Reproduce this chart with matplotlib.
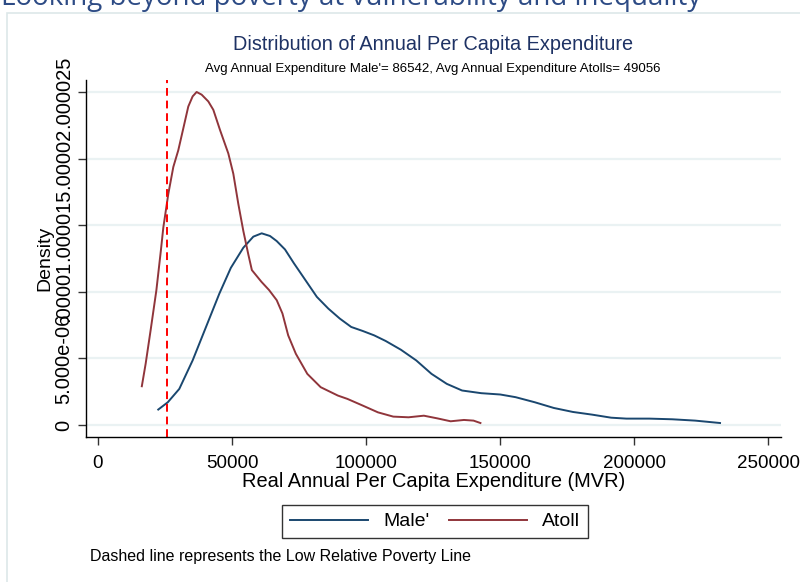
import matplotlib
matplotlib.use("Agg")
import matplotlib.pyplot as plt
from matplotlib.patches import Rectangle
from matplotlib.lines import Line2D

plt.rcParams['font.family'] = ['Liberation Sans', 'DejaVu Sans']

# ---- data ----
male_x = [22480, 26050, 30330, 35310, 40300, 45290, 49570, 54220, 57950, 61070,
          64170, 66670, 69770, 73100, 77380, 81650, 85930, 90210, 94480, 98760,
          103040, 107320, 113020, 118730, 124430, 130130, 135840, 142970, 150100,
          155800, 162930, 170060, 177190, 184320, 191450, 197150, 205700, 214260,
          222810, 232080]
male_y = [1.16e-6, 1.71e-6, 2.71e-6, 4.85e-6, 7.36e-6, 9.87e-6, 1.18e-5, 1.331e-5,
          1.414e-5, 1.439e-5, 1.419e-5, 1.381e-5, 1.318e-5, 1.214e-5, 1.088e-5,
          9.62e-6, 8.74e-6, 7.99e-6, 7.36e-6, 7.06e-6, 6.73e-6, 6.31e-6, 5.65e-6,
          4.85e-6, 3.84e-6, 3.09e-6, 2.59e-6, 2.39e-6, 2.29e-6, 2.09e-6, 1.71e-6,
          1.28e-6, 9.8e-7, 7.8e-7, 5.5e-7, 4.8e-7, 4.8e-7, 4.3e-7, 3.3e-7, 1.5e-7]

atoll_x = [16350, 17780, 19630, 21770, 23480, 24370, 26230, 28100, 29960, 31830,
           33690, 35310, 36800, 38670, 41160, 43030, 45520, 48630, 50490, 52360,
           54220, 56090, 57410, 60980, 63830, 66680, 68820, 70960, 73810, 78090,
           83080, 89500, 93060, 98760, 104460, 110170, 115870, 121580, 126570,
           131560, 136550, 140110, 142680]
atoll_y = [2.91e-6, 4.6e-6, 7.11e-6, 1.01e-5, 1.314e-5, 1.482e-5, 1.735e-5, 1.937e-5,
           2.063e-5, 2.227e-5, 2.391e-5, 2.467e-5, 2.50e-5, 2.48e-5, 2.429e-5,
           2.366e-5, 2.215e-5, 2.038e-5, 1.886e-5, 1.659e-5, 1.457e-5, 1.28e-5,
           1.163e-5, 1.075e-5, 1.013e-5, 9.37e-6, 8.37e-6, 6.73e-6, 5.35e-6, 3.84e-6,
           2.84e-6, 2.21e-6, 1.96e-6, 1.46e-6, 9.5e-7, 6.3e-7, 5.8e-7, 7.0e-7, 5.0e-7,
           2.8e-7, 3.8e-7, 3.3e-7, 1.5e-7]

poverty_line = 25900

x_ticks = [0, 50000, 100000, 150000, 200000, 250000]
x_tick_labels = ["0", "50000", "100000", "150000", "200000", "250000"]
y_ticks = [0, 5e-6, 1e-5, 1.5e-5, 2e-5, 2.5e-5]
y_tick_labels = ["0", "5.000e-06", ".00001", ".000015", ".00002", ".000025"]

series_names = ["Male'", "Atoll"]
male_color = "#1a476f"
atoll_color = "#90353b"

W, H = 800, 582
fig = plt.figure(figsize=(W / 100, H / 100), dpi=100)
fig.patch.set_facecolor("white")

def fx(px):
    return px / W

def fy(py):
    return 1 - py / H

# outer box border (partially cut off)
fig.patches.append(Rectangle((fx(7), fy(600)), 1.2, fy(13.5) - fy(600),
                             transform=fig.transFigure, fill=False,
                             edgecolor="#dde7e9", linewidth=1.2))

# cut-off page header
fig.text(fx(1), fy(5), "Looking beyond poverty at vulnerability and inequality",
         fontsize=20, family=["Open Sans", "DejaVu Sans"], color="#2d4b85",
         ha="left", va="baseline")

ax = fig.add_axes([fx(86), fy(437), fx(781) - fx(86), fy(80) - fy(437)])
ax.set_facecolor("white")

ax.plot(male_x, male_y, color=male_color, lw=1.4, label=series_names[0], solid_joinstyle="round")
ax.plot(atoll_x, atoll_y, color=atoll_color, lw=1.4, label=series_names[1], solid_joinstyle="round")
ax.axvline(poverty_line, color="#ff0000", lw=1.4, linestyle=(0, (4, 2.5)))

ax.set_xlim(-4477, 254830)
ax.set_ylim(-9.0e-7, 2.59e-5)

ax.set_xticks(x_ticks)
ax.set_xticklabels(x_tick_labels)
ax.set_yticks(y_ticks)
ax.set_yticklabels(y_tick_labels, rotation=90, va="center")

ax.yaxis.grid(True, color="#eaf2f3", lw=1.6)
ax.set_axisbelow(True)

for s in ["top", "right"]:
    ax.spines[s].set_visible(False)
for s in ["left", "bottom"]:
    ax.spines[s].set_color("black")
    ax.spines[s].set_linewidth(1.0)

ax.tick_params(axis="both", direction="out", length=6, width=1.0, color="#333333",
               labelcolor="black")
ax.tick_params(axis="x", pad=7, labelsize=13.5)
ax.tick_params(axis="y", pad=3, labelsize=14.5)

ax.set_xlabel("Real Annual Per Capita Expenditure (MVR)", fontsize=14.4, labelpad=0)
ax.set_ylabel("Density", fontsize=14, labelpad=1)

fig.text(fx(433), fy(45), "Distribution of Annual Per Capita Expenditure",
         fontsize=14.3, color="#1e3264", ha="center", va="center")
fig.text(fx(433), fy(69),
         "Avg Annual Expenditure Male'= 86542, Avg Annual Expenditure Atolls= 49056",
         fontsize=9.5, color="black", ha="center", va="center")

handles = [Line2D([], [], color=male_color, lw=1.4),
           Line2D([], [], color=atoll_color, lw=1.4)]
leg = fig.legend(handles, series_names, loc="center",
                 bbox_to_anchor=(fx(435), fy(521.5)), ncol=2, fontsize=14,
                 frameon=True, fancybox=False, edgecolor="black",
                 handlelength=4.0, handletextpad=0.8, columnspacing=1.0,
                 borderpad=0.4)
leg.get_frame().set_linewidth(1.0)

fig.text(fx(90), fy(556), "Dashed line represents the Low Relative Poverty Line",
         fontsize=11.5, color="black", ha="left", va="center")

fig.savefig("out.png", dpi=100, facecolor="white")
